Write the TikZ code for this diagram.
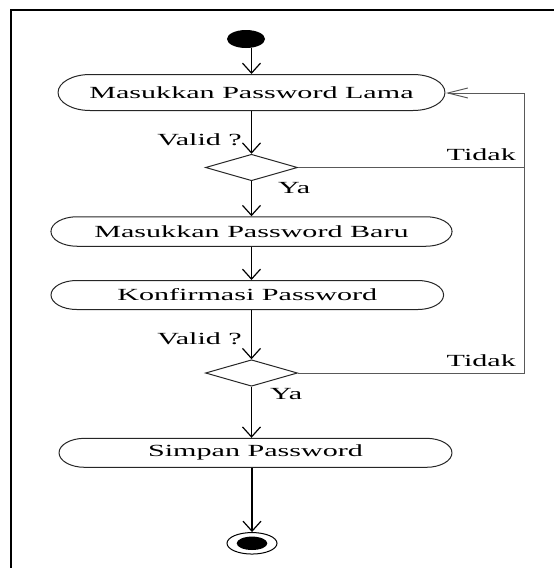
\documentclass[tikz,border=0pt]{standalone}
\usepackage{fontspec}
\setmainfont{Liberation Serif}
\usetikzlibrary{shapes.geometric,shapes.misc,arrows.meta}
\begin{document}
\begin{tikzpicture}[x=1pt,y=-1pt,
  txt/.style={font=\fontsize{17}{20}\selectfont, text=black},
  act/.style={rounded rectangle, draw=black!85, line width=1pt, inner sep=0pt, transform shape, txt},
  dec/.style={diamond, draw=black!85, line width=1pt, inner sep=0pt, minimum width=92pt, minimum height=26.5pt},
  lbl/.style={txt, inner sep=0pt},
  flow/.style={draw=black, line width=1.2pt, -{Straight Barb[length=10pt,width=18pt]}},
  back/.style={draw=black!65, line width=1pt},
  backarrow/.style={back, -{Straight Barb[length=20pt,width=10pt]}},
]
\useasboundingbox (0,0) rectangle (554,568);
\draw[line width=1.8pt, line join=miter] (11.3,580) -- (11.3,10.3) -- (570,10.3);

\node[ellipse, fill=black, minimum width=38pt, minimum height=18pt, inner sep=0pt] (start) at (246,39) {};

\begin{scope}[shift={(251.5,92.5)}, xscale=1.77]
\node[act, minimum width=218.6pt, minimum height=36pt] (a1) {Masukkan Password Lama};
\end{scope}
\begin{scope}[shift={(251.5,231.5)}, xscale=1.77]
\node[act, minimum width=226.6pt, minimum height=29.5pt] (a2) {Masukkan Password Baru};
\end{scope}
\begin{scope}[shift={(247.3,295)}, xscale=1.77]
\node[act, minimum width=221.8pt, minimum height=29pt] (a3) {Konfirmasi Password};
\end{scope}
\begin{scope}[shift={(255.5,452.8)}, xscale=1.77]
\node[act, minimum width=222pt, minimum height=29pt] (a4) {Simpan Password};
\end{scope}

\node[dec] (d1) at (251.5,167.5) {};
\node[dec] (d2) at (251.5,373) {};

\node[ellipse, draw=black, line width=1pt, minimum width=50pt, minimum height=21.5pt, inner sep=0pt] (fin) at (252,543.3) {};
\node[ellipse, fill=black, minimum width=30.6pt, minimum height=13.4pt, inner sep=0pt] (finin) at (fin.center) {};

\node[lbl, anchor=base east] (v1) at (242,145.5) {\scalebox{1.77}[1]{Valid ?}};
\node[lbl, anchor=base east] (t1) at (516,160.5) {\scalebox{1.77}[1]{Tidak}};
\node[lbl, anchor=base west] (y1) at (278,193.5) {\scalebox{1.77}[1]{Ya}};
\node[lbl, anchor=base east] (v2) at (242,344) {\scalebox{1.77}[1]{Valid ?}};
\node[lbl, anchor=base east] (t2) at (516,366.5) {\scalebox{1.77}[1]{Tidak}};
\node[lbl, anchor=base west] (y2) at (270,399.5) {\scalebox{1.77}[1]{Ya}};

\draw[flow] (start.south -| a1.north) -- (a1.north);
\draw[flow] (a1.south) -- (d1.north);
\draw[flow] (d1.south) -- (a2.north);
\draw[flow] (a2.south) -- (a2.south |- a3.north);
\draw[flow] (a3.south -| d2.north) -- (d2.north);
\draw[flow] (d2.south) -- (d2.south |- a4.north);
\draw[flow] (a4.south -| fin.north) -- (fin.north);

\coordinate (rail) at (524.5,93);
\draw[back] (d2.east) -| (rail);
\draw[backarrow] (d1.east) -| (rail) -- (rail -| a1.east);
\end{tikzpicture}
\end{document}
